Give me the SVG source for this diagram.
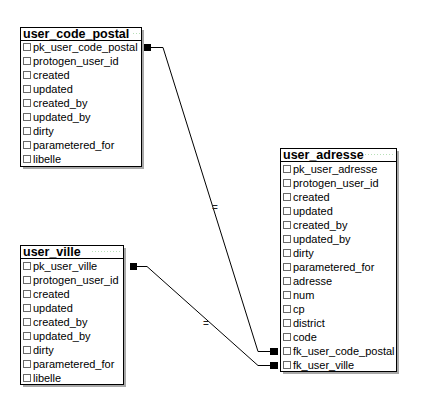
<svg xmlns="http://www.w3.org/2000/svg" width="428" height="420" viewBox="0 0 428 420">
<style>
.shadow{fill:#a8a8a8}
.box{fill:#fff;stroke:#000;stroke-width:1}
.sep{stroke:#000;stroke-width:1}
.dots{stroke:#b8e0b8;stroke-width:1;stroke-dasharray:1 2}
.title{font-family:"Liberation Sans",Arial,sans-serif;font-weight:bold;font-size:12.5px;fill:#000}
.row{font-family:"Liberation Sans",Arial,sans-serif;font-size:11px;fill:#000}
.cb{fill:#fff;stroke:#6a6a6a;stroke-width:1}
.conn{fill:none;stroke:#000;stroke-width:1}
.sq{fill:#000}
.eq{font-family:"Liberation Sans",Arial,sans-serif;font-size:10px;fill:#222}
</style>
<rect width="428" height="420" fill="#fff"/>
<g id="connectors">
<path class="conn" d="M151,47.5 H163 L258,351.5 H270"/>
<path class="conn" d="M137,266.5 H147 L258,365.5 H270"/>
<rect class="sq" x="144" y="44" width="7" height="7"/>
<rect class="sq" x="130" y="263" width="7" height="7"/>
<rect class="sq" x="270" y="348" width="8" height="7"/>
<rect class="sq" x="270" y="362" width="8" height="7"/>
<text class="eq" x="215" y="210.5" text-anchor="middle">=</text>
<text class="eq" x="206" y="326.5" text-anchor="middle">=</text>
</g>
<g id="user_code_postal">
<rect class="shadow" x="23" y="30" width="121" height="139"/>
<rect class="box" x="20.5" y="27.5" width="121" height="139"/>
<line class="sep" x1="20.5" y1="40.5" x2="141.5" y2="40.5"/>
<line class="dots" x1="133" y1="33.5" x2="140" y2="33.5"/>
<text class="title" x="23" y="38">user_code_postal</text>
<g class="cb"><rect x="23.5" y="43.5" width="7" height="7"/><rect x="23.5" y="57.5" width="7" height="7"/><rect x="23.5" y="71.5" width="7" height="7"/><rect x="23.5" y="85.5" width="7" height="7"/><rect x="23.5" y="99.5" width="7" height="7"/><rect x="23.5" y="113.5" width="7" height="7"/><rect x="23.5" y="127.5" width="7" height="7"/><rect x="23.5" y="141.5" width="7" height="7"/><rect x="23.5" y="155.5" width="7" height="7"/></g>
<text class="row" x="33" y="51">pk_user_code_postal</text>
<text class="row" x="33" y="65">protogen_user_id</text>
<text class="row" x="33" y="79">created</text>
<text class="row" x="33" y="93">updated</text>
<text class="row" x="33" y="107">created_by</text>
<text class="row" x="33" y="121">updated_by</text>
<text class="row" x="33" y="135">dirty</text>
<text class="row" x="33" y="149">parametered_for</text>
<text class="row" x="33" y="163">libelle</text>
</g>
<g id="user_ville">
<rect class="shadow" x="23" y="248" width="103" height="139"/>
<rect class="box" x="20.5" y="245.5" width="103" height="139"/>
<line class="sep" x1="20.5" y1="258.5" x2="123.5" y2="258.5"/>
<line class="dots" x1="92" y1="251.5" x2="122" y2="251.5"/>
<text class="title" x="23" y="256">user_ville</text>
<g class="cb"><rect x="23.5" y="262.5" width="7" height="7"/><rect x="23.5" y="276.5" width="7" height="7"/><rect x="23.5" y="290.5" width="7" height="7"/><rect x="23.5" y="304.5" width="7" height="7"/><rect x="23.5" y="318.5" width="7" height="7"/><rect x="23.5" y="332.5" width="7" height="7"/><rect x="23.5" y="346.5" width="7" height="7"/><rect x="23.5" y="360.5" width="7" height="7"/><rect x="23.5" y="374.5" width="7" height="7"/></g>
<text class="row" x="33" y="270">pk_user_ville</text>
<text class="row" x="33" y="284">protogen_user_id</text>
<text class="row" x="33" y="298">created</text>
<text class="row" x="33" y="312">updated</text>
<text class="row" x="33" y="326">created_by</text>
<text class="row" x="33" y="340">updated_by</text>
<text class="row" x="33" y="354">dirty</text>
<text class="row" x="33" y="368">parametered_for</text>
<text class="row" x="33" y="382">libelle</text>
</g>
<g id="user_adresse">
<rect class="shadow" x="283" y="151" width="116" height="223"/>
<rect class="box" x="280.5" y="148.5" width="116" height="223"/>
<line class="sep" x1="280.5" y1="161.5" x2="396.5" y2="161.5"/>
<line class="dots" x1="362" y1="154.5" x2="395" y2="154.5"/>
<text class="title" x="283" y="159">user_adresse</text>
<g class="cb"><rect x="283.5" y="165.5" width="7" height="7"/><rect x="283.5" y="179.5" width="7" height="7"/><rect x="283.5" y="193.5" width="7" height="7"/><rect x="283.5" y="207.5" width="7" height="7"/><rect x="283.5" y="221.5" width="7" height="7"/><rect x="283.5" y="235.5" width="7" height="7"/><rect x="283.5" y="249.5" width="7" height="7"/><rect x="283.5" y="263.5" width="7" height="7"/><rect x="283.5" y="277.5" width="7" height="7"/><rect x="283.5" y="291.5" width="7" height="7"/><rect x="283.5" y="305.5" width="7" height="7"/><rect x="283.5" y="319.5" width="7" height="7"/><rect x="283.5" y="333.5" width="7" height="7"/><rect x="283.5" y="347.5" width="7" height="7"/><rect x="283.5" y="361.5" width="7" height="7"/></g>
<text class="row" x="293" y="173">pk_user_adresse</text>
<text class="row" x="293" y="187">protogen_user_id</text>
<text class="row" x="293" y="201">created</text>
<text class="row" x="293" y="215">updated</text>
<text class="row" x="293" y="229">created_by</text>
<text class="row" x="293" y="243">updated_by</text>
<text class="row" x="293" y="257">dirty</text>
<text class="row" x="293" y="271">parametered_for</text>
<text class="row" x="293" y="285">adresse</text>
<text class="row" x="293" y="299">num</text>
<text class="row" x="293" y="313">cp</text>
<text class="row" x="293" y="327">district</text>
<text class="row" x="293" y="341">code</text>
<text class="row" x="293" y="355">fk_user_code_postal</text>
<text class="row" x="293" y="369">fk_user_ville</text>
</g>
</svg>
